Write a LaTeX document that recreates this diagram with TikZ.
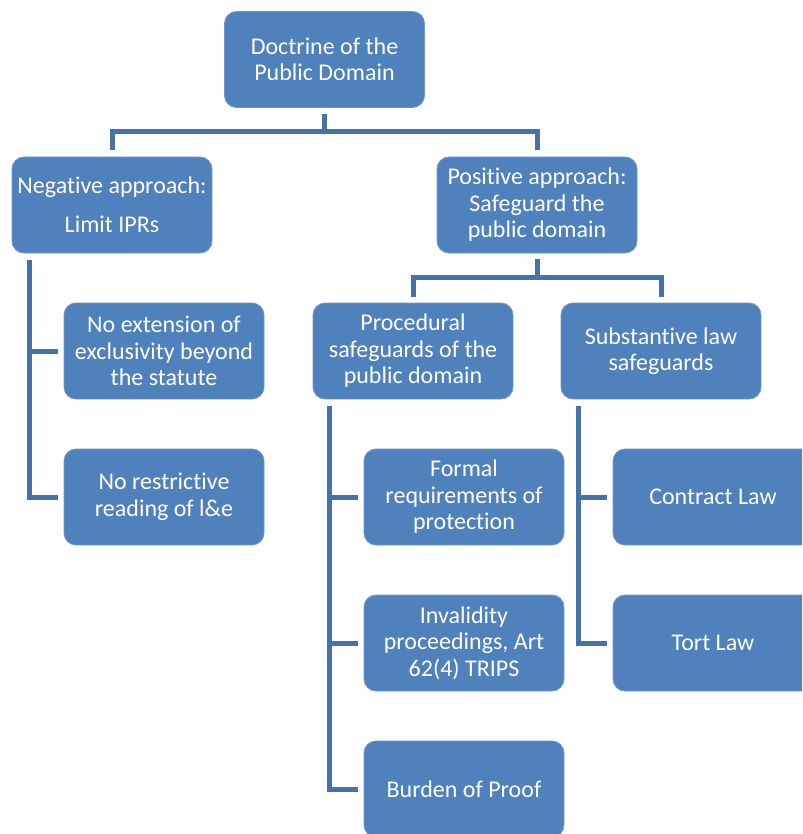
\documentclass[tikz,border=0pt]{standalone}
\usepackage{fontspec}
\setmainfont{Carlito}[Ligatures={NoCommon,NoContextual},Contextuals=NoAlternate]
\definecolor{boxfill}{HTML}{4F81BD}
\definecolor{boxedge}{HTML}{6F97CA}
\definecolor{connline}{HTML}{4672AA}
\begin{document}
\begin{tikzpicture}[x=1pt,y=-1pt,
  box/.style={draw=boxedge,line width=0.8pt,fill=boxfill,rounded corners=12pt,
    minimum width=200pt,minimum height=96pt,inner sep=0pt,text=white,
    align=center,font=\fontsize{24}{26.5}\selectfont},
  conn/.style={draw=connline,line width=5pt,line join=miter}]
\useasboundingbox (0,0) rectangle (802,834);
\clip (0,0) rectangle (802,834);
\node[box] (root) at (324.5,59.5) {Doctrine of the\\Public Domain};
\node[box] (neg) at (112,205) {Negative approach:\\[12.5pt]Limit IPRs};
\node[box] (pos) at (537,205) {Positive approach:\\Safeguard the\\public domain};
\node[box] (ne) at (164,351) {No extension of\\exclusivity beyond\\the statute};
\node[box] (nr) at (164,497) {No restrictive\\reading of l\&e};
\node[box] (proc) at (413,351) {Procedural\\safeguards of the\\public domain};
\node[box] (subst) at (661,351) {Substantive law\\safeguards};
\node[box] (formal) at (464,497) {Formal\\requirements of\\protection};
\node[box] (inval) at (464,643) {Invalidity\\proceedings, Art\\62(4) TRIPS};
\node[box] (burden) at (464,789) {Burden of Proof};
\node[box] (contract) at (713,497) {Contract Law};
\node[box] (tort) at (713,643) {Tort Law};
% root to level 1
\draw[conn] ([yshift=-6pt]root.south) -- ++(0,18) -| ([yshift=7pt]neg.north);
\draw[conn] ([yshift=-6pt]root.south) -- ++(0,18) -| ([yshift=7pt]pos.north);
% positive to level 2
\draw[conn] ([yshift=-6pt]pos.south) -- ++(0,18) -| ([yshift=6pt]proc.north);
\draw[conn] ([yshift=-6pt]pos.south) -- ++(0,18) -| ([yshift=6pt]subst.north);
% negative children
\coordinate (negtrunk) at ([xshift=18pt,yshift=-7pt]neg.south west);
\draw[conn] (negtrunk) |- ([xshift=-6pt]nr.west);
\draw[conn] (negtrunk |- ne.west) -- ([xshift=-6pt]ne.west);
% procedural children
\coordinate (proctrunk) at ([xshift=17pt,yshift=-7pt]proc.south west);
\draw[conn] (proctrunk) |- ([xshift=-6pt]burden.west);
\draw[conn] (proctrunk |- formal.west) -- ([xshift=-6pt]formal.west);
\draw[conn] (proctrunk |- inval.west) -- ([xshift=-6pt]inval.west);
% substantive children
\coordinate (substtrunk) at ([xshift=18pt,yshift=-7pt]subst.south west);
\draw[conn] (substtrunk) |- ([xshift=-6pt]tort.west);
\draw[conn] (substtrunk |- contract.west) -- ([xshift=-6pt]contract.west);
\end{tikzpicture}
\end{document}
